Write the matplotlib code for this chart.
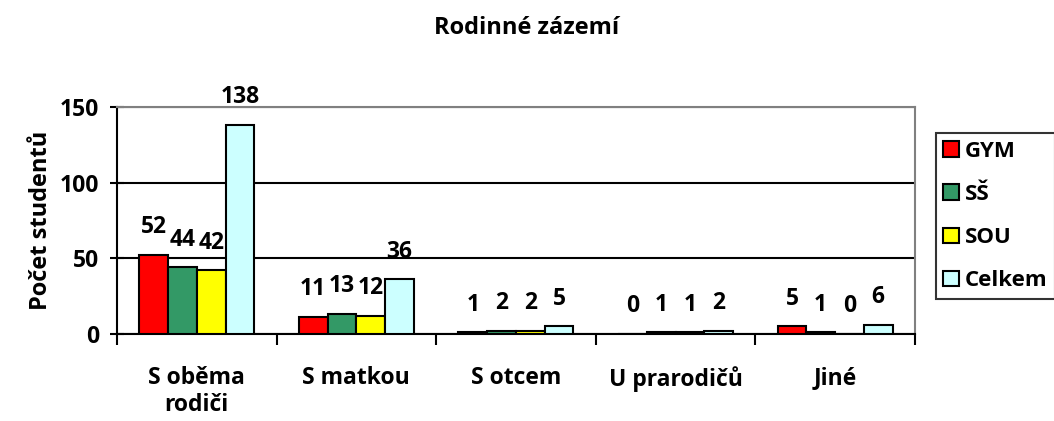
import numpy as np
import matplotlib.pyplot as plt
from matplotlib.ticker import FixedLocator, NullFormatter

plt.rcParams['font.family'] = ['Open Sans', 'DejaVu Sans']
plt.rcParams['font.weight'] = 'bold'

categories = ["S oběma\nrodiči", "S matkou", "S otcem", "U prarodičů", "Jiné"]
series = ["GYM", "SŠ", "SOU", "Celkem"]
gym = [52, 11, 1, 0, 5]
ss = [44, 13, 2, 1, 1]
sou = [42, 12, 2, 1, 0]
celkem = [138, 36, 5, 2, 6]
colors = ["#FF0000", "#339966", "#FFFF00", "#CCFFFF"]

fs = 16.5

fig = plt.figure(figsize=(10.54, 4.21), dpi=100)
ax = fig.add_axes([0.111, 0.207, 0.757, 0.539])

x = np.arange(len(categories))
w = 0.18
for i, (name, vals) in enumerate(zip(series, [gym, ss, sou, celkem])):
    pos = x + (i - 1.5) * w
    ax.bar(pos, vals, w, color=colors[i], edgecolor='black', linewidth=1.5, label=name, zorder=3)
    for p, v in zip(pos, vals):
        ax.annotate(str(v), (p, v), xytext=(0, 20), textcoords='offset points',
                    ha='center', va='center', fontsize=fs, fontweight='bold')

ax.set_xlim(-0.5, 4.5)
ax.set_ylim(0, 150)
ax.set_yticks([0, 50, 100, 150])
ax.yaxis.grid(True, color='black', linewidth=1.5, zorder=0)
ax.set_axisbelow(True)

ax.xaxis.set_major_locator(FixedLocator(np.arange(-0.5, 5, 1)))
ax.xaxis.set_major_formatter(NullFormatter())
ax.xaxis.set_minor_locator(FixedLocator(x))
ax.set_xticklabels(categories, minor=True)
ax.tick_params(axis='x', which='minor', length=0, pad=23, labelsize=fs)
ax.tick_params(axis='x', which='major', length=8, width=1.5, direction='out')
ax.tick_params(axis='y', length=10, width=1.5, direction='inout', labelsize=fs, pad=8)

for s in ['left', 'bottom']:
    ax.spines[s].set_linewidth(1.5)
for s in ['top', 'right']:
    ax.spines[s].set_color('#808080')
    ax.spines[s].set_linewidth(1.5)

ax.set_ylabel("Počet studentů", fontsize=17, fontweight='bold', labelpad=5)
fig.suptitle("Rodinné zázemí", fontsize=17, fontweight='bold', y=0.933, va='center')

leg = ax.legend(loc='upper left', bbox_to_anchor=(1.026, 0.885), frameon=True, fancybox=False,
                edgecolor='black', fontsize=16, handlelength=0.7, handleheight=0.7,
                handletextpad=0.25, borderpad=0.35, labelspacing=1.0, borderaxespad=0)
leg.get_frame().set_linewidth(1.5)

fig.savefig("out.png", dpi=100)
